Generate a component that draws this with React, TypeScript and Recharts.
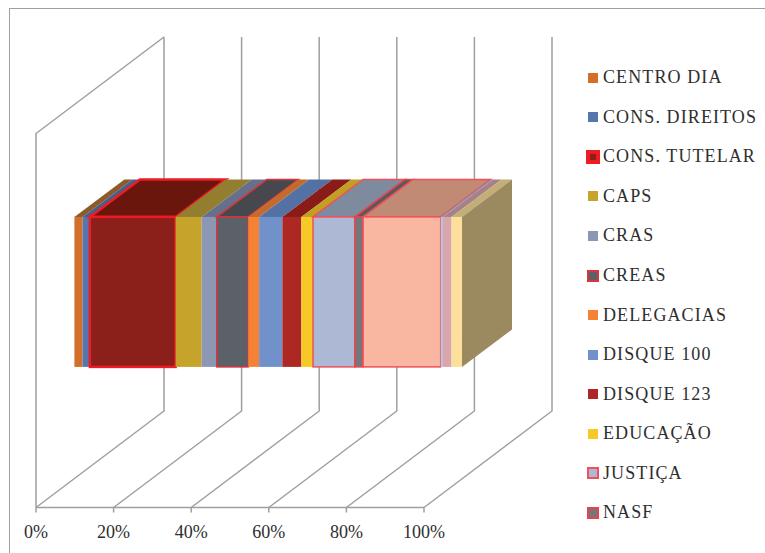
import React from "react";
import { BarChart, Bar, XAxis, YAxis, CartesianGrid, Legend } from "recharts";

const CATEGORIES = ["Serviços"];
const SERIES_NAMES = [
  "CENTRO DIA", "CONS. DIREITOS", "CONS. TUTELAR", "CAPS", "CRAS", "CREAS",
  "DELEGACIAS", "DISQUE 100", "DISQUE 123", "EDUCAÇÃO", "JUSTIÇA", "NASF",
  "OUTRO A", "OUTRO B", "OUTRO C", "OUTRO D",
];
const SERIES_VALUES = [2.1, 1.9, 22.1, 6.7, 3.9, 8.1, 2.8, 6.0, 4.9, 3.0, 10.8, 2.1, 20.0, 0.6, 2.2, 2.7];
const LEGEND_COUNT = 12;
const X_TICKS = [0, 20, 40, 60, 80, 100];

const FILLS = ["#d2702a", "#5676ad", "#8b1f1a", "#c6a42c", "#8c97b4", "#5c6068", "#f58135", "#7191cb", "#ad2723", "#f7c927", "#adb8d4", "#76767a", "#f9b7a2", "#b9c4dc", "#d9a6ac", "#fbdf9b"];
const TOPS = ["#8f5a2a", "#46608e", "#6a160c", "#937e30", "#67708a", "#47484e", "#c46a2c", "#5471a4", "#8a1c17", "#c29e22", "#7e8b9f", "#5a5a5e", "#c08a75", "#8894ad", "#a88088", "#c4ae78"];
const STROKES = ["", "", "#ed1c24", "", "", "#d8343c", "", "", "", "", "#f0505a", "#e8434c", "#f0505a", "", "", ""];
const STROKE_WIDTHS = [0, 0, 2.5, 0, 0, 1.5, 0, 0, 0, 0, 1.5, 1.5, 1.5, 0, 0, 0];

const WIDTH = 765;
const HEIGHT = 553;
const PLOT_LEFT = 36;
const PLOT_RIGHT = 424;
const PLOT_TOP = 133.5;
const PLOT_BOTTOM = 507.5;
const WALL_DX = 128;
const WALL_DY = 96.5;
const BAR_DX = 38.4; // how far the bar sits into the depth of the floor
const BAR_DY = 28.6;
const DEPTH_DX = 50;
const DEPTH_DY = 37.5;
const GRID = "#9f9f9f";
const SIDE = "#9b8a60";
const TEXT = "#2e2e2e";
const FONT = "'Liberation Serif', serif";

const data = CATEGORIES.map((c) => {
  const row: Record<string, string | number> = { category: c };
  SERIES_NAMES.forEach((n, i) => (row[n] = SERIES_VALUES[i]));
  return row;
});

const Box3D = (index: number) => (props: any) => {
  const { x, y, width, height } = props;
  const fx = x + BAR_DX;
  const fy = y - BAR_DY;
  const stroke = STROKES[index] || "none";
  const sw = STROKE_WIDTHS[index];
  const isLast = index === SERIES_NAMES.length - 1;
  return (
    <g>
      <polygon
        points={`${fx},${fy} ${fx + DEPTH_DX},${fy - DEPTH_DY} ${fx + width + DEPTH_DX},${fy - DEPTH_DY} ${fx + width},${fy}`}
        fill={TOPS[index]}
        stroke={stroke}
        strokeWidth={sw}
      />
      {isLast && (
        <polygon
          points={`${fx + width},${fy} ${fx + width + DEPTH_DX},${fy - DEPTH_DY} ${fx + width + DEPTH_DX},${fy + height - DEPTH_DY} ${fx + width},${fy + height}`}
          fill={SIDE}
        />
      )}
      <rect x={fx} y={fy} width={width} height={height} fill={FILLS[index]} stroke={stroke} strokeWidth={sw} />
    </g>
  );
};

const GridLine = (props: any) => {
  const { x1, index } = props;
  const bx = x1 + WALL_DX;
  const backTop = PLOT_TOP - WALL_DY;
  const backBottom = PLOT_BOTTOM - WALL_DY;
  return (
    <g fill="none" stroke={GRID} strokeWidth={1.5}>
      <polyline points={`${x1},${PLOT_BOTTOM} ${bx},${backBottom} ${bx},${backTop}`} />
      {index === 0 && <polyline points={`${x1},${PLOT_BOTTOM} ${x1},${PLOT_TOP} ${bx},${backTop}`} />}
    </g>
  );
};

const LegendList = () => (
  <div style={{ position: "absolute", left: 586, top: 58, fontFamily: FONT, fontSize: 18, color: TEXT }}>
    {SERIES_NAMES.slice(0, LEGEND_COUNT).map((name, i) => {
      const heavy = STROKE_WIDTHS[i] > 2;
      const size = heavy ? 14 : STROKES[i] ? 12 : 10;
      return (
        <div key={name} style={{ display: "flex", alignItems: "center", height: 39.55, whiteSpace: "nowrap" }}>
          <span style={{ width: 17, display: "flex", justifyContent: "center", paddingRight: 3, boxSizing: "border-box" }}>
            <span
              style={{
                display: "inline-block",
                boxSizing: "border-box",
                width: size,
                height: size,
                background: FILLS[i],
                border: STROKES[i] ? `${heavy ? 4 : 2}px solid ${STROKES[i]}` : "none",
              }}
            />
          </span>
          <span style={{ letterSpacing: 1.1 }}>{name}</span>
        </div>
      );
    })}
  </div>
);

export default function App() {
  return (
    <div style={{ position: "absolute", left: 0, top: 0, width: WIDTH, height: HEIGHT, background: "#fff", overflow: "hidden" }}>
      <div
        style={{
          position: "absolute",
          left: 9,
          top: 8,
          width: WIDTH,
          height: HEIGHT,
          border: "1.5px solid #a0a0a0",
          boxSizing: "border-box",
        }}
      />
      <BarChart
        width={WIDTH}
        height={HEIGHT}
        data={data}
        layout="vertical"
        barSize={150}
        style={{ position: "absolute", left: 0, top: 0 }}
        margin={{ left: PLOT_LEFT, right: WIDTH - PLOT_RIGHT, top: PLOT_TOP, bottom: 0 }}
      >
        <CartesianGrid horizontal={false} vertical={GridLine as any} />
        <XAxis
          type="number"
          domain={[0, 100]}
          ticks={X_TICKS}
          interval={0}
          height={HEIGHT - PLOT_BOTTOM}
          tickFormatter={(v: number) => `${v}%`}
          axisLine={{ stroke: GRID, strokeWidth: 1.5 }}
          tickLine={{ stroke: GRID, strokeWidth: 1.5 }}
          tickSize={5}
          tickMargin={13}
          tick={{ fontFamily: FONT, fontSize: 18, fill: TEXT }}
        />
        <YAxis type="category" dataKey="category" hide />
        <Legend content={() => <LegendList />} wrapperStyle={{ position: "absolute", left: 0, top: 0, width: 0, height: 0 }} />
        {SERIES_NAMES.map((name, i) => (
          <Bar
            key={name}
            dataKey={name}
            stackId="all"
            fill={FILLS[i]}
            shape={Box3D(i)}
            isAnimationActive={false}
            legendType={i < LEGEND_COUNT ? "square" : "none"}
          />
        ))}
      </BarChart>
    </div>
  );
}
